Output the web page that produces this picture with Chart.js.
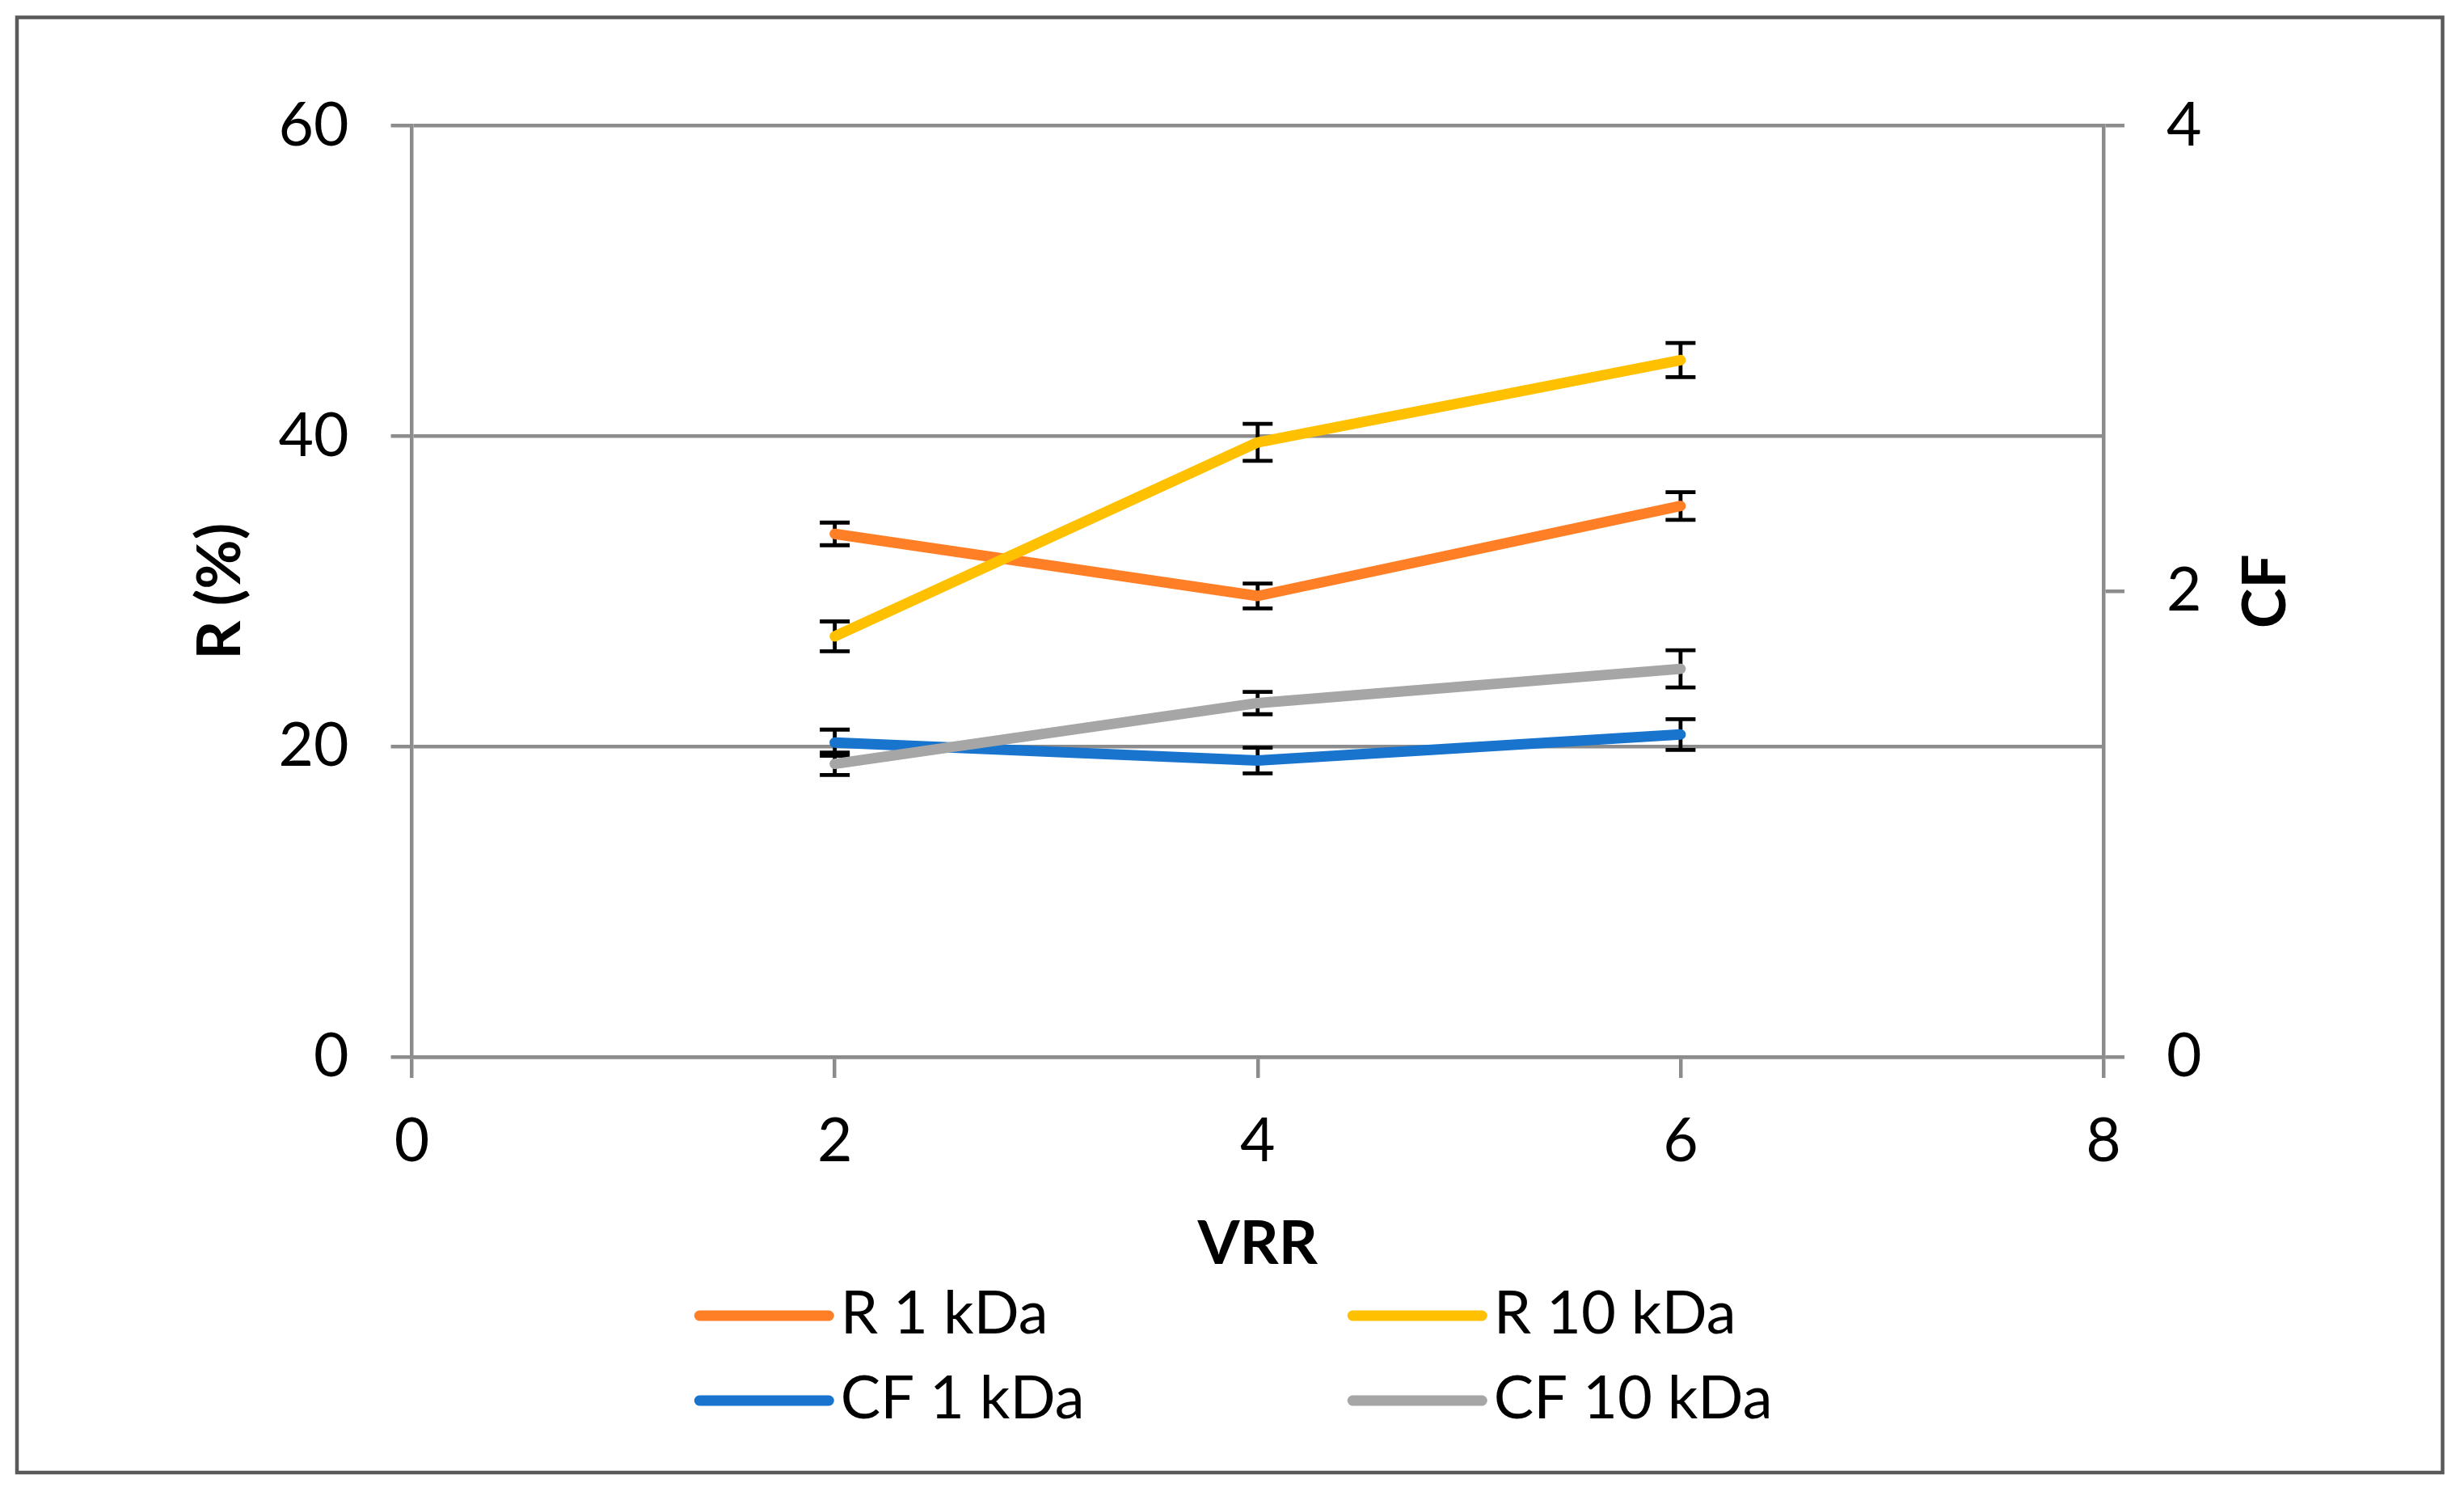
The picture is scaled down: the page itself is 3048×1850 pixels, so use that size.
<!DOCTYPE html>
<html><head><meta charset="utf-8">
<script src="https://cdn.jsdelivr.net/npm/chart.js@4.4.1/dist/chart.umd.min.js"></script>
<style>html,body{margin:0;padding:0;background:#fff;} canvas{display:block;}</style>
</head><body>
<canvas id="c" width="3048" height="1850" style="width:3048px;height:1850px"></canvas>
<script>
// ---- data ----
const vrr = [2, 4, 6];
const seriesLabels = ['R 1 kDa', 'R 10 kDa', 'CF 1 kDa', 'CF 10 kDa'];
const r1 = [33.7, 29.7, 35.5];
const r1Err = [0.73, 0.80, 0.89];
const r10 = [27.1, 39.6, 44.9];
const r10Err = [0.96, 1.19, 1.10];
const cf1 = [1.350, 1.273, 1.385];
const cf1Err = [0.056, 0.055, 0.066];
const cf10 = [1.259, 1.520, 1.667];
const cf10Err = [0.048, 0.048, 0.080];
const xTicks = [0, 2, 4, 6, 8];
const rTicks = [0, 20, 40, 60];
const cfTicks = [0, 2, 4];

// ---- styles ----
const FONT = 'Lato';
const GRID = '#8c8c8c';
const colors = ['#ff7f27', '#ffc000', '#1874cd', '#a6a6a6'];
const toPts = (ys) => vrr.map((x, i) => ({x: x, y: ys[i]}));
const tickFont = {family: FONT, size: 75};
const titleFont = {family: FONT, size: 75, weight: 'bold'};

function mkSet(i, ys, errs, axis, order) {
  return {
    label: seriesLabels[i], data: toPts(ys), errors: errs, yAxisID: axis,
    borderColor: colors[i], backgroundColor: colors[i], borderWidth: 13,
    borderCapStyle: 'round', borderJoinStyle: 'round', pointRadius: 0,
    pointHoverRadius: 0, fill: false, tension: 0, order: order
  };
}

const frame = {
  id: 'frame',
  beforeDraw(chart) {
    const ctx = chart.ctx;
    ctx.save();
    ctx.fillStyle = '#fff';
    ctx.fillRect(0, 0, chart.width, chart.height);
    ctx.strokeStyle = '#595959';
    ctx.lineWidth = 4.5;
    ctx.strokeRect(21, 21.5, chart.width - 47.5, chart.height - 50.5);
    ctx.restore();
  }
};

const errorBars = {
  id: 'errorBars',
  beforeDatasetsDraw(chart) {
    const ctx = chart.ctx;
    const xs = chart.scales.x;
    ctx.save();
    ctx.strokeStyle = '#000';
    ctx.lineWidth = 4.8;
    ctx.lineCap = 'butt';
    const half = 18.5;
    chart.data.datasets.forEach(ds => {
      const ys = chart.scales[ds.yAxisID];
      ds.data.forEach((p, i) => {
        const e = ds.errors[i];
        const px = xs.getPixelForValue(p.x);
        const t = ys.getPixelForValue(p.y + e);
        const b = ys.getPixelForValue(p.y - e);
        ctx.beginPath();
        ctx.moveTo(px, t); ctx.lineTo(px, b);
        ctx.moveTo(px - half, t); ctx.lineTo(px + half, t);
        ctx.moveTo(px - half, b); ctx.lineTo(px + half, b);
        ctx.stroke();
      });
    });
    ctx.restore();
  }
};

const extras = {
  id: 'extras',
  afterDraw(chart) {
    const ctx = chart.ctx;
    const a = chart.chartArea;
    const cx = (a.left + a.right) / 2;
    ctx.save();
    // right axis title, reading bottom to top
    ctx.fillStyle = '#000';
    ctx.font = 'bold 75px ' + FONT;
    ctx.textAlign = 'center';
    ctx.textBaseline = 'middle';
    ctx.translate(a.right + 201, (a.top + a.bottom) / 2);
    ctx.rotate(-Math.PI / 2);
    ctx.fillText('CF', 0, 0);
    ctx.restore();

    // legend (2 x 2 grid)
    ctx.save();
    ctx.font = '74px ' + FONT;
    ctx.textAlign = 'left';
    ctx.textBaseline = 'middle';
    const cols = [cx - 690.5, cx + 117.5];
    const rows = [a.bottom + 320, a.bottom + 425];
    chart.data.datasets.forEach((ds, i) => {
      const col = i % 2, row = Math.floor(i / 2);
      const x0 = cols[col], y0 = rows[row];
      ctx.strokeStyle = ds.borderColor;
      ctx.lineWidth = 13;
      ctx.lineCap = 'round';
      ctx.beginPath();
      ctx.moveTo(x0, y0);
      ctx.lineTo(x0 + 160, y0);
      ctx.stroke();
      ctx.fillStyle = '#000';
      ctx.fillText(ds.label, x0 + 174.5, y0 - 2);
    });
    ctx.restore();
  }
};

function setTicks(arr) {
  return (s) => { s.ticks = arr.map(v => ({value: v})); };
}

new Chart(document.getElementById('c'), {
  type: 'line',
  data: {
    datasets: [
      mkSet(0, r1, r1Err, 'y', 4),
      mkSet(1, r10, r10Err, 'y', 3),
      mkSet(2, cf1, cf1Err, 'y2', 2),
      mkSet(3, cf10, cf10Err, 'y2', 1)
    ]
  },
  options: {
    responsive: false,
    animation: false,
    devicePixelRatio: 1,
    events: [],
    layout: {padding: {left: 224, right: 0, top: 155.5, bottom: 262}},
    plugins: {legend: {display: false}, tooltip: {enabled: false}},
    scales: {
      x: {
        type: 'linear', position: 'bottom',
        min: xTicks[0], max: xTicks[xTicks.length - 1],
        afterBuildTicks: setTicks(xTicks),
        afterFit: (s) => { s.height = 281; },
        grid: {drawOnChartArea: false, drawTicks: true, tickLength: 26, color: GRID, lineWidth: 4.5},
        border: {display: true, color: GRID, width: 4.5},
        ticks: {font: tickFont, color: '#000', padding: 34, maxRotation: 0, autoSkip: false},
        title: {display: true, text: 'VRR', font: titleFont, color: '#000', padding: {top: 4, bottom: 4}}
      },
      y: {
        type: 'linear', position: 'left',
        min: rTicks[0], max: rTicks[rTicks.length - 1],
        afterBuildTicks: setTicks(rTicks),
        afterFit: (s) => { s.width = 285.5; },
        grid: {drawOnChartArea: true, drawTicks: true, tickLength: 26, color: GRID, lineWidth: 4.5},
        border: {display: true, color: GRID, width: 4.5},
        ticks: {font: tickFont, color: '#000', padding: 52, autoSkip: false},
        title: {display: true, text: 'R (%)', font: titleFont, color: '#000', padding: {top: 4, bottom: 4}}
      },
      y2: {
        type: 'linear', position: 'right',
        min: cfTicks[0], max: cfTicks[cfTicks.length - 1],
        afterBuildTicks: setTicks(cfTicks),
        afterFit: (s) => { s.width = 446; },
        grid: {drawOnChartArea: false, drawTicks: true, tickLength: 26, color: GRID, lineWidth: 4.5},
        border: {display: true, color: GRID, width: 4.5},
        ticks: {font: tickFont, color: '#000', padding: 52, autoSkip: false}
      }
    }
  },
  plugins: [frame, errorBars, extras]
});
</script>
</body></html>
